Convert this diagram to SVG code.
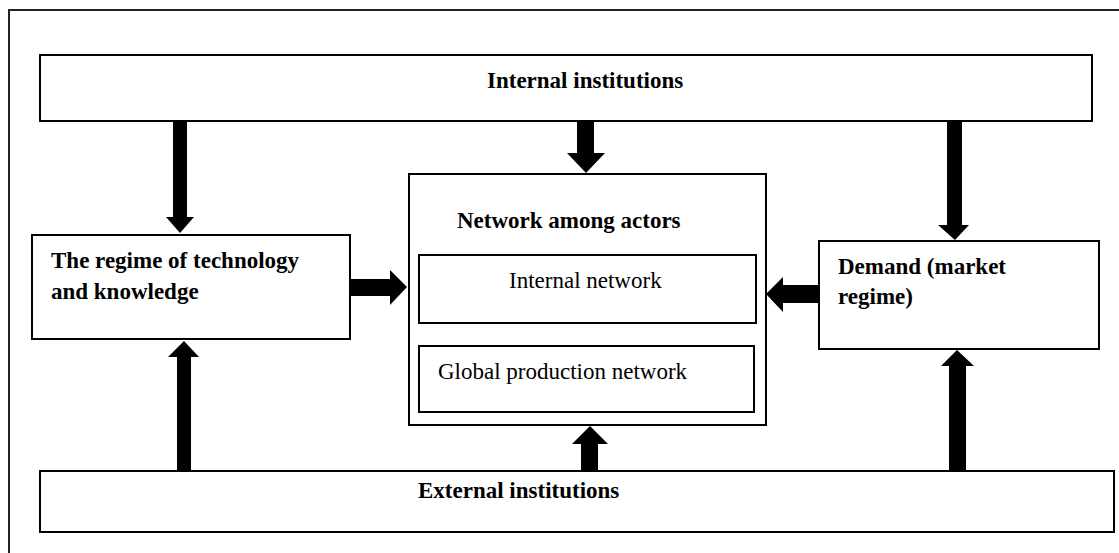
<svg xmlns="http://www.w3.org/2000/svg" width="1119" height="553" viewBox="0 0 1119 553">
<style>
.box{fill:#fff;stroke:#000;stroke-width:2}
.frame{fill:none;stroke:#222;stroke-width:2}
.arr{fill:#000;stroke:none}
.b{font-family:"Liberation Serif","Times New Roman",serif;font-weight:bold;font-size:23px;fill:#000}
.r{font-family:"Liberation Serif","Times New Roman",serif;font-size:23px;fill:#000}
</style>
<rect width="1119" height="553" fill="#fff"/>
<rect class="frame" x="9" y="10" width="1130" height="560"/>
<g id="internal-institutions">
<rect class="box" x="40" y="55" width="1052" height="66"/>
<text class="b" x="487" y="88">Internal institutions</text>
</g>
<g id="technology">
<rect class="box" x="32" y="235" width="318" height="104"/>
<text class="b" x="51" y="268">The regime of technology</text>
<text class="b" x="51" y="299">and knowledge</text>
</g>
<g id="network">
<rect class="box" x="409" y="174" width="357" height="251"/>
<text class="b" x="457" y="228">Network among actors</text>
</g>
<g id="internal-network">
<rect class="box" x="419" y="255" width="337" height="68"/>
<text class="r" x="509" y="288">Internal network</text>
</g>
<g id="global-network">
<rect class="box" x="419" y="346" width="335" height="66"/>
<text class="r" x="438" y="379">Global production network</text>
</g>
<g id="demand">
<rect class="box" x="819" y="241" width="280" height="108"/>
<text class="b" x="838" y="274">Demand (market</text>
<text class="b" x="838" y="304">regime)</text>
</g>
<g id="external-institutions">
<rect class="box" x="40" y="471" width="1074" height="61"/>
<text class="b" x="418" y="498">External institutions</text>
</g>
<g id="connectors">
<polygon class="arr" points="173,121 187,121 187,217 194,217 180,233 166,217 173,217"/>
<polygon class="arr" points="577,121 594,121 594,153 605,153 586,173 567,153 577,153"/>
<polygon class="arr" points="947,121 962,121 962,225 969,225 955,240 938,225 947,225"/>
<polygon class="arr" points="350,279 390,279 390,270 407,287 390,305 390,296 350,296"/>
<polygon class="arr" points="819,285 783,285 783,277 766,294 783,312 783,303 819,303"/>
<polygon class="arr" points="177,471 191,471 191,357 199,357 184,341 168,357 177,357"/>
<polygon class="arr" points="581,471 598,471 598,444 608,444 590,426 572,444 581,444"/>
<polygon class="arr" points="949,471 966,471 966,366 974,366 957,350 941,366 949,366"/>
</g>
</svg>
